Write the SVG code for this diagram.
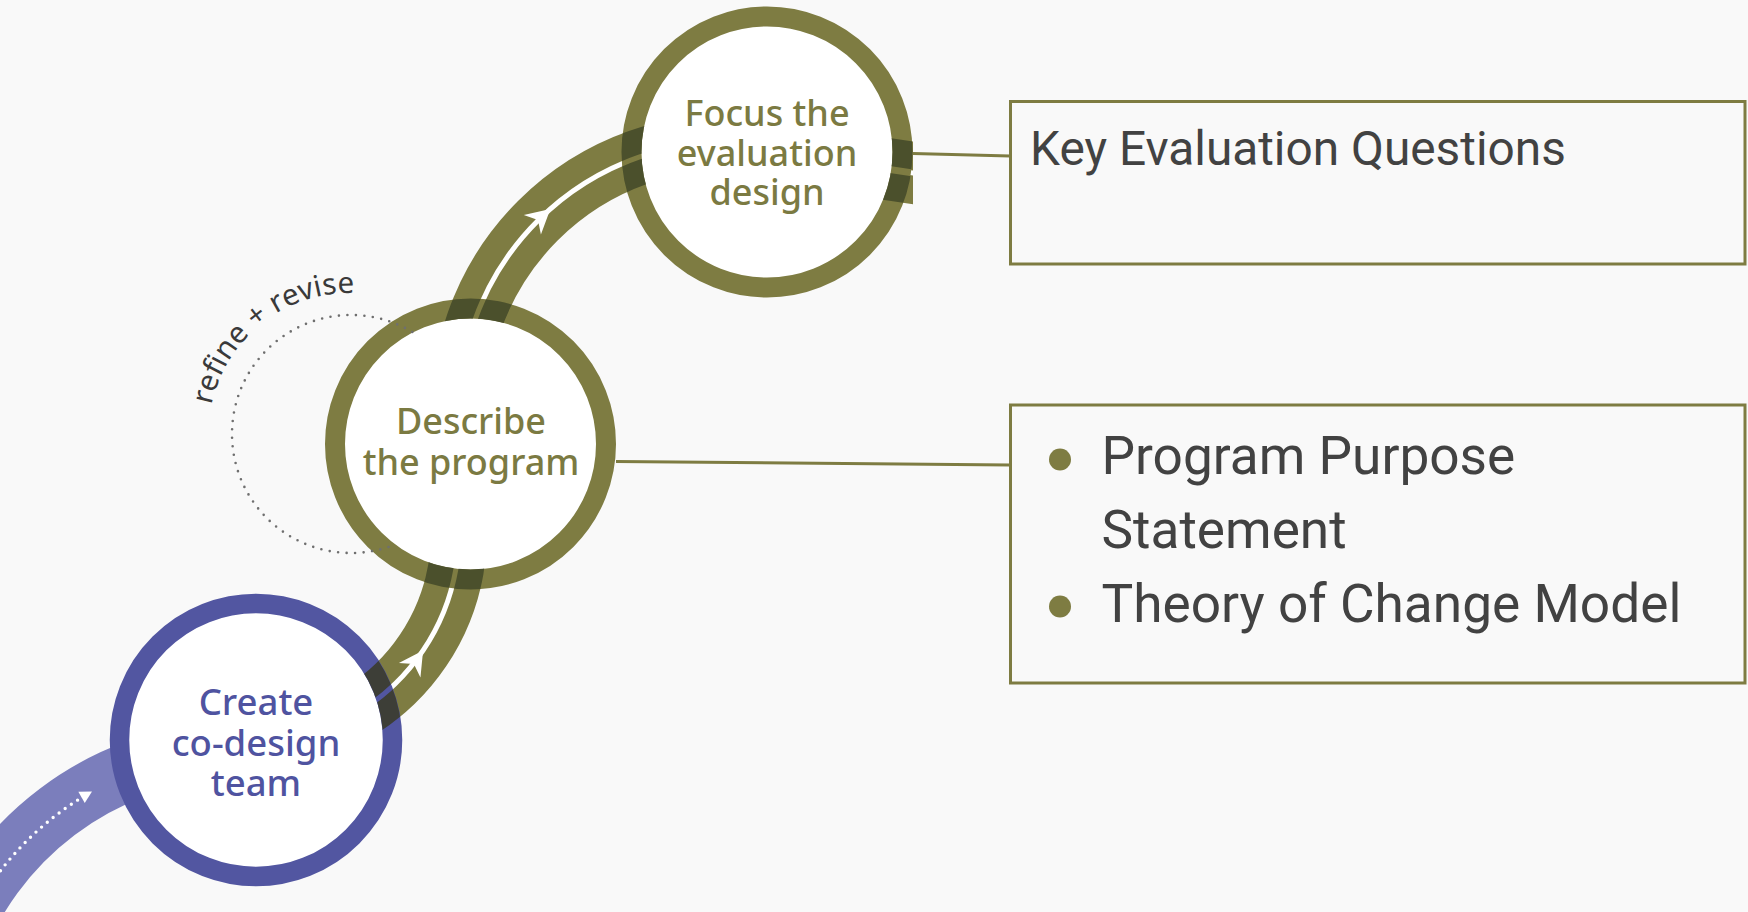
<svg xmlns="http://www.w3.org/2000/svg" width="1748" height="912" viewBox="0 0 1748 912">
<style>
.bg{fill:#f9f9f9}
.band{fill:none;stroke:#7e7c42;stroke-width:56}
.bandR{fill:none;stroke:#7e7c42;stroke-width:62}
.gap{fill:none;stroke:#ffffff;stroke-width:5}
.blueband{fill:none;stroke:#7b7ebc;stroke-width:58}
.strip{fill:none;stroke-width:25.5}
.stripR{fill:none;stroke-width:27.5}
.dkO{stroke:#4b502c}
.dkB{stroke:#3d3e37}
.ringO{fill:#ffffff;stroke:#7e7c42;stroke-width:20}
.ringB{fill:#ffffff;stroke:#5256a1;stroke-width:19.5}
.lblO{font-family:"Noto Sans","Open Sans",sans-serif;font-weight:500;font-size:36px;fill:#7b7a42;text-anchor:middle}
.lblB{font-family:"Noto Sans","Open Sans",sans-serif;font-weight:500;font-size:36.5px;fill:#4f53a0;text-anchor:middle}
.lead{fill:none;stroke:#7e7c42;stroke-width:3}
.box{fill:none;stroke:#7e7c42;stroke-width:3}
.boxtxt{font-family:Roboto,"Liberation Sans",sans-serif;fill:#424242}
.arrowW{fill:#ffffff}
</style>
<defs>
<clipPath id="annC"><path clip-rule="evenodd" d="M110 740a146 146 0 1 0 292 0a146 146 0 1 0 -292 0Z M129 740a127 127 0 1 0 254 0a127 127 0 1 0 -254 0Z"/></clipPath>
<clipPath id="annD"><path clip-rule="evenodd" d="M325 444a145.5 145.5 0 1 0 291 0a145.5 145.5 0 1 0 -291 0Z M345 444a125.5 125.5 0 1 0 251 0a125.5 125.5 0 1 0 -251 0Z"/></clipPath>
<clipPath id="annF"><path clip-rule="evenodd" d="M621.5 152a145.5 145.5 0 1 0 291 0a145.5 145.5 0 1 0 -291 0Z M641.5 152a125.5 125.5 0 1 0 251 0a125.5 125.5 0 1 0 -251 0Z"/></clipPath>
<clipPath id="cutR"><rect x="0" y="0" width="913" height="912"/></clipPath>
<path id="arrowO" d="M0 0 L-24 -13 L-16.5 0 L-24 13 Z"/>
</defs>
<rect class="bg" x="0" y="0" width="1748" height="912"/>

<g id="connectors">
  <path class="blueband" d="M -46.49 952 A 307 307 0 0 1 220.58 750.75"/>
  <path d="M -16.66 895.37 A 305 305 0 0 1 78.12 799.77" fill="none" stroke="#ffffff" stroke-width="3.4" stroke-linecap="round" stroke-dasharray="0 7.5"/>
  <path class="arrowW" d="M0 0 L-12 -6.5 L-12 6.5 Z" transform="translate(92 791.5) rotate(-29.5)"/>
  <path class="band" d="M 285.47 739.81 A 210 210 0 0 0 454.41 489.34"/>
  <path class="gap" d="M 285.47 739.81 A 210 210 0 0 0 454.41 489.34"/>
  <use href="#arrowO" class="arrowW" transform="translate(423.1 650.43) rotate(-56)"/>
  <path class="band" d="M 459.66 429.76 A 269 269 0 0 1 746.76 142.66"/>
  <path class="gap" d="M 459.66 429.76 A 269 269 0 0 1 746.76 142.66"/>
  <use href="#arrowO" class="arrowW" transform="translate(550.37 208.99) rotate(-41.3)"/>
  <g clip-path="url(#cutR)">
    <path class="bandR" d="M 760 150 L 960 180"/>
    <path class="gap" stroke-width="7" d="M 760 150 L 960 180"/>
  </g>
</g>

<g id="node-create">
  <circle class="ringB" cx="256" cy="740" r="136.5"/>
  <text class="lblB"><tspan x="256" y="715">Create</tspan><tspan x="256" y="755.5">co-design</tspan><tspan x="256" y="796">team</tspan></text>
</g>

<g id="node-describe">
  <circle class="ringO" cx="470.5" cy="444" r="135.5"/>
  <text class="lblO"><tspan x="471" y="434">Describe</tspan><tspan x="471" y="475">the program</tspan></text>
</g>

<g id="node-focus">
  <circle class="ringO" cx="767" cy="152" r="135.5"/>
  <text class="lblO"><tspan x="767" y="126">Focus the</tspan><tspan x="767" y="165.5">evaluation</tspan><tspan x="767" y="205">design</tspan></text>
</g>

<g id="connector-crossings">
  <g clip-path="url(#annC)">
    <path class="strip dkB" d="M 282.82 724.79 A 194.75 194.75 0 0 0 439.5 492.51"/>
    <path class="strip dkB" d="M 288.11 754.83 A 225.25 225.25 0 0 0 469.33 486.17"/>
  </g>
  <g clip-path="url(#annD)">
    <path class="strip dkO" d="M 282.82 724.79 A 194.75 194.75 0 0 0 439.5 492.51"/>
    <path class="strip dkO" d="M 288.11 754.83 A 225.25 225.25 0 0 0 469.33 486.17"/>
    <path class="strip dkO" d="M 474.87 428.7 A 253.75 253.75 0 0 1 745.7 157.87"/>
    <path class="strip dkO" d="M 444.44 430.83 A 284.25 284.25 0 0 1 747.83 127.44"/>
  </g>
  <g clip-path="url(#annF)">
    <path class="strip dkO" d="M 474.87 428.7 A 253.75 253.75 0 0 1 745.7 157.87"/>
    <path class="strip dkO" d="M 444.44 430.83 A 284.25 284.25 0 0 1 747.83 127.44"/>
    <g clip-path="url(#cutR)">
      <path class="stripR dkO" d="M 762.56 132.94 L 962.56 162.94"/>
      <path class="stripR dkO" d="M 757.44 167.06 L 957.44 197.06"/>
    </g>
  </g>
</g>

<g id="refine-loop">
  <path d="M 412.3 332 A 119 119 0 1 0 394.4 544.8" fill="none" stroke="#6f6f6f" stroke-width="2.6" stroke-linecap="round" stroke-dasharray="0 8.5"/>
  <path id="refineArc" d="M 211.5 405 A 141 141 0 0 1 372 294.8" fill="none"/>
  <text font-family="'Noto Sans','Open Sans',sans-serif" font-size="29.5" fill="#3a3a3a"><textPath href="#refineArc" textLength="197" lengthAdjust="spacing">refine + revise</textPath></text>
</g>

<g id="leaders">
  <path class="lead" d="M 913 153.5 L 1010 156"/>
  <path class="lead" d="M 616 461.5 L 1010 465"/>
</g>

<g id="box-questions">
  <rect class="box" x="1010.5" y="101.5" width="734.5" height="162.5"/>
  <text class="boxtxt" x="1030" y="165" font-size="47.8">Key Evaluation Questions</text>
</g>

<g id="box-program">
  <rect class="box" x="1010.5" y="405" width="734.5" height="278"/>
  <circle cx="1060" cy="459.5" r="11" fill="#7e7c42"/>
  <circle cx="1060" cy="606.5" r="11" fill="#7e7c42"/>
  <text class="boxtxt" x="1101.5" y="473.5" font-size="53.2">Program Purpose</text>
  <text class="boxtxt" x="1101.5" y="548" font-size="53.2">Statement</text>
  <text class="boxtxt" x="1101.5" y="622" font-size="53.2">Theory of Change Model</text>
</g>
</svg>
